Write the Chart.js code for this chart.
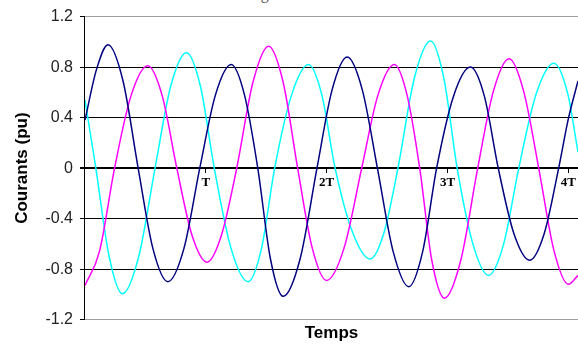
<!DOCTYPE html>
<html>
<head>
<meta charset="utf-8">
<script src="https://cdn.jsdelivr.net/npm/chart.js@4/dist/chart.umd.min.js"></script>
<style>
  html, body { margin: 0; padding: 0; background: #fff; overflow: hidden; }
  #wrap { position: relative; width: 578px; height: 344px; }
  #caption { position: absolute; left: 0; top: -15px; font: 16px "Liberation Serif", serif; color: #555; white-space: nowrap; }
  canvas { position: absolute; left: 0; top: 0; }
</style>
</head>
<body>
<div id="wrap">
  <div id="caption">Les courants obtenus sont illustrés à la figure 3.30.</div>
  <canvas id="chart" width="578" height="344"></canvas>
</div>
<script>
// time in periods T, current in pu (read from peaks / zero crossings)
const navyT = [0, 0.095, 0.19, 0.315, 0.44, 0.563, 0.686, 0.818, 0.95, 1.08, 1.21, 1.32, 1.43, 1.535, 1.64, 1.78, 1.92, 2.045, 2.17, 2.295, 2.42, 2.55, 2.68, 2.795, 2.91, 3.05, 3.19, 3.305, 3.42, 3.55, 3.68, 3.80, 3.92, 4.0, 4.08]
const navyI = [0.38, 0.78, 0.977, 0.69, 0, -0.64, -0.90, -0.64, 0, 0.58, 0.82, 0.58, 0, -0.72, -1.016, -0.72, 0, 0.62, 0.88, 0.62, 0, -0.66, -0.94, -0.66, 0, 0.57, 0.80, 0.57, 0, -0.52, -0.73, -0.52, 0, 0.39, 0.69]

const magT = [0, 0.12, 0.245, 0.38, 0.52, 0.64, 0.76, 0.885, 1.01, 1.13, 1.256, 1.39, 1.52, 1.64, 1.76, 1.88, 2.0, 2.145, 2.29, 2.425, 2.56, 2.665, 2.77, 2.87, 2.975, 3.11, 3.25, 3.38, 3.51, 3.63, 3.755, 3.88, 4.0, 4.08]
const magI = [-0.93, -0.66, 0, 0.57, 0.81, 0.57, 0, -0.53, -0.745, -0.53, 0, 0.68, 0.966, 0.68, 0, -0.63, -0.89, -0.63, 0, 0.58, 0.82, 0.58, 0, -0.73, -1.03, -0.73, 0, 0.61, 0.866, 0.61, 0, -0.65, -0.92, -0.85]

const cyanT = [0, 0.09, 0.20, 0.31, 0.445, 0.58, 0.71, 0.84, 0.955, 1.07, 1.21, 1.35, 1.46, 1.57, 1.71, 1.85, 1.96, 2.07, 2.215, 2.36, 2.475, 2.59, 2.725, 2.86, 2.97, 3.08, 3.21, 3.34, 3.465, 3.59, 3.735, 3.88, 3.995, 4.08]
const cyanI = [0.54, 0, -0.70, -0.995, -0.70, 0, 0.65, 0.914, 0.65, 0, -0.64, -0.90, -0.64, 0, 0.58, 0.82, 0.58, 0, -0.51, -0.72, -0.51, 0, 0.71, 1.006, 0.71, 0, -0.60, -0.85, -0.60, 0, 0.59, 0.83, 0.59, 0.127]

const yTicks = [-1.2, -0.8, -0.4, 0, 0.4, 0.8, 1.2]
const periodTicks = [1, 2, 3, 4]
const periodLabels = ["T", "2T", "3T", "4T"]

function pts(t, v) {
    return t.map((x, i) => ({ x: x, y: v[i] }))
}

function line(data, color) {
    return {
        data: data,
        borderColor: color,
        borderWidth: 1.5,
        pointRadius: 0,
        cubicInterpolationMode: "monotone",
        fill: false
    }
}

new Chart(document.getElementById("chart"), {
    type: "line",
    data: {
        datasets: [
            line(pts(navyT, navyI), "#000080"),
            line(pts(magT, magI), "#ff00ff"),
            line(pts(cyanT, cyanI), "#00ffff")
        ]
    },
    options: {
        responsive: false,
        animation: false,
        devicePixelRatio: 1,
        layout: { padding: { left: 0, right: 0, top: 16, bottom: 0 } },
        plugins: { legend: { display: false }, tooltip: { enabled: false } },
        scales: {
            x: {
                type: "linear",
                min: 0,
                max: 4.08,
                ticks: { display: false },
                grid: { display: false, drawTicks: false },
                border: { display: false },
                title: {
                    display: true,
                    text: "Temps",
                    color: "#000",
                    font: { family: "Arial, 'Liberation Sans'", size: 17, weight: "bold" },
                    padding: { top: 4, bottom: 0 }
                }
            },
            x2: {
                type: "linear",
                axis: "x",
                position: { y: 0 },
                min: 0,
                max: 4.08,
                z: 1,
                afterBuildTicks: s => { s.ticks = periodTicks.map(v => ({ value: v })) },
                ticks: {
                    color: "#000",
                    font: { family: "'Liberation Serif', serif", size: 13, weight: "bold" },
                    padding: 2,
                    maxRotation: 0,
                    autoSkip: false,
                    showLabelBackdrop: true,
                    backdropColor: "#fff",
                    backdropPadding: 1,
                    callback: v => periodLabels[periodTicks.indexOf(v)]
                },
                grid: { drawOnChartArea: false, drawTicks: true, tickLength: 5, color: "#000" },
                border: { display: false }
            },
            y: {
                min: -1.2,
                max: 1.2,
                afterBuildTicks: s => { s.ticks = yTicks.map(v => ({ value: v })) },
                ticks: {
                    color: "#222",
                    font: { family: "Arial, 'Liberation Sans'", size: 16 },
                    padding: 7,
                    callback: v => v === 0 ? "0" : v.toFixed(1)
                },
                grid: {
                    color: c => Math.abs(c.tick.value) > 1.1 ? "#a0a0a0" : "#000",
                    lineWidth: c => c.tick.value === 0 ? 2 : 1,
                    tickColor: "#000",
                    tickLength: 5
                },
                border: { display: true, color: "#000", width: 1 },
                title: {
                    display: true,
                    text: "Courants (pu)",
                    color: "#000",
                    font: { family: "Arial, 'Liberation Sans'", size: 17, weight: "bold" },
                    padding: { top: 12, bottom: 6 }
                }
            }
        }
    }
})
</script>
</body>
</html>
